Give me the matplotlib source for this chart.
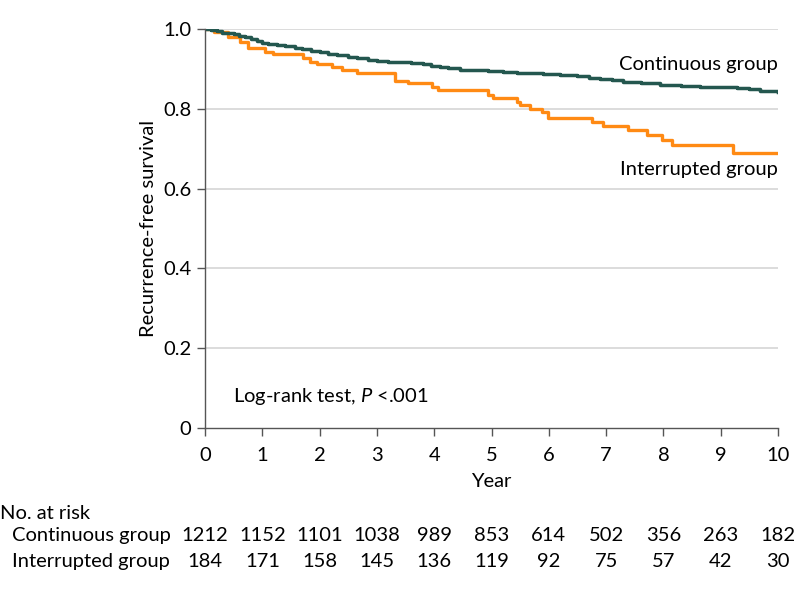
import matplotlib
matplotlib.use('Agg')
import matplotlib.pyplot as plt
import matplotlib.transforms as mtransforms

plt.rcParams['font.family'] = ['Lato', 'DejaVu Sans']
plt.rcParams['mathtext.fontset'] = 'custom'
plt.rcParams['mathtext.it'] = 'Lato:italic'
plt.rcParams['mathtext.rm'] = 'Lato'

# Kaplan-Meier steps
cont_t = [0, 0.1, 0.2, 0.3, 0.4, 0.5, 0.6, 0.7, 0.8, 0.9, 1.0, 1.1, 1.25, 1.4, 1.57, 1.7,
          1.85, 2.0, 2.15, 2.3, 2.5, 2.65, 2.84, 3.0, 3.2, 3.4, 3.6, 3.8, 3.95, 4.1, 4.24,
          4.45, 4.7, 4.94, 5.2, 5.45, 5.67, 5.9, 6.2, 6.49, 6.7, 6.9, 7.1, 7.3, 7.6, 7.94,
          8.3, 8.64, 9.0, 9.28, 9.5, 9.69, 10]
cont_s = [1.0, 0.997, 0.994, 0.991, 0.989, 0.986, 0.982, 0.979, 0.975, 0.969, 0.964, 0.962,
          0.959, 0.956, 0.952, 0.949, 0.945, 0.941, 0.937, 0.934, 0.930, 0.926, 0.922, 0.920,
          0.918, 0.916, 0.914, 0.911, 0.908, 0.904, 0.901, 0.898, 0.896, 0.894, 0.892, 0.890,
          0.889, 0.886, 0.884, 0.881, 0.878, 0.874, 0.871, 0.868, 0.865, 0.860, 0.858, 0.855,
          0.854, 0.852, 0.850, 0.845, 0.843]

int_t = [0, 0.15, 0.40, 0.61, 0.75, 1.05, 1.19, 1.71, 1.83, 1.95, 2.22, 2.39, 2.65, 3.32,
         3.54, 3.96, 4.07, 4.94, 5.03, 5.44, 5.50, 5.67, 5.88, 5.99, 6.75, 6.95, 7.38, 7.71,
         7.98, 8.15, 9.21, 10]
int_s = [1.0, 0.993, 0.980, 0.968, 0.952, 0.942, 0.937, 0.927, 0.916, 0.912, 0.905, 0.897,
         0.889, 0.870, 0.864, 0.855, 0.847, 0.835, 0.826, 0.817, 0.810, 0.800, 0.793, 0.776,
         0.767, 0.757, 0.747, 0.734, 0.722, 0.708, 0.690, 0.690]

years = list(range(11))
risk_cont = [1212, 1152, 1101, 1038, 989, 853, 614, 502, 356, 263, 182]
risk_int = [184, 171, 158, 145, 136, 119, 92, 75, 57, 42, 30]

green = '#24574f'
orange = '#ff8a14'
fs = 14.5

fig = plt.figure(figsize=(7.98, 5.90), dpi=100)
ax = fig.add_axes([0.257, 0.2746, 0.718, 0.6764])

for y in [0.2, 0.4, 0.6, 0.8, 1.0]:
    ax.axhline(y, color='#d9d9d9', lw=1.3, zorder=0)

ax.plot(int_t, int_s, drawstyle='steps-post', color=orange, lw=2.4)
ax.plot(cont_t, cont_s, drawstyle='steps-post', color=green, lw=2.5)

ax.set_xlim(0, 10)
ax.set_ylim(0, 1.0)
ax.set_xticks(years)
ax.set_yticks([0, 0.2, 0.4, 0.6, 0.8, 1.0])
ax.set_yticklabels(['0', '0.2', '0.4', '0.6', '0.8', '1.0'])
for s in ['top', 'right']:
    ax.spines[s].set_visible(False)
for s in ['left', 'bottom']:
    ax.spines[s].set_color('#555555')
    ax.spines[s].set_linewidth(1.0)
ax.tick_params(direction='out', length=6, width=1, color='#555555', labelsize=fs, pad=4)
ax.tick_params(axis='x', pad=8)
ax.set_xlabel('Year', fontsize=fs, labelpad=6)
ax.set_ylabel('Recurrence-free survival', fontsize=fs, labelpad=4)

ax.text(10, 0.91, 'Continuous group', ha='right', va='center', fontsize=fs)
ax.text(10, 0.647, 'Interrupted group', ha='right', va='center', fontsize=fs)
ax.text(0.49, 0.08, 'Log-rank test, $P$ <.001', ha='left', va='center', fontsize=fs)

# number at risk table
tr = mtransforms.blended_transform_factory(ax.transData, fig.transFigure)
fig.text(0.0, 0.1305, 'No. at risk', ha='left', va='center', fontsize=fs)
fig.text(0.015, 0.0932, 'Continuous group', ha='left', va='center', fontsize=fs)
fig.text(0.015, 0.0475, 'Interrupted group', ha='left', va='center', fontsize=fs)
for x, a, b in zip(years, risk_cont, risk_int):
    ax.text(x, 0.0932, str(a), transform=tr, ha='center', va='center', fontsize=fs, clip_on=False)
    ax.text(x, 0.0475, str(b), transform=tr, ha='center', va='center', fontsize=fs, clip_on=False)

fig.savefig('out.png', dpi=100)
